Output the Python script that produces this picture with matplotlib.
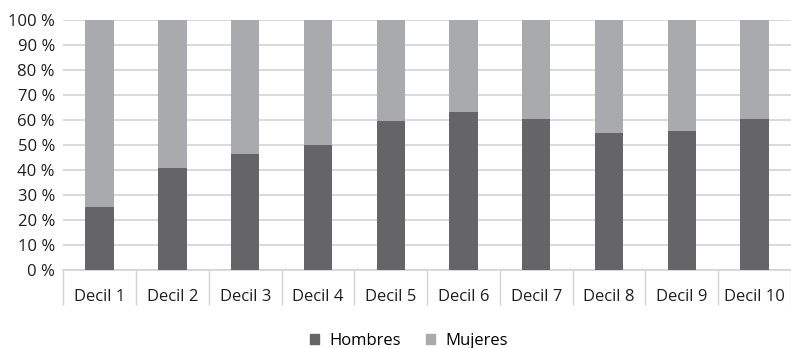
import matplotlib
matplotlib.use("Agg")
import matplotlib.pyplot as plt
import numpy as np
from matplotlib.patches import Patch

categories = ["Decil 1", "Decil 2", "Decil 3", "Decil 4", "Decil 5",
              "Decil 6", "Decil 7", "Decil 8", "Decil 9", "Decil 10"]
hombres = [25.4, 41.0, 46.6, 50.2, 59.8, 63.3, 60.6, 54.7, 55.7, 60.6]
mujeres = [100 - h for h in hombres]
yticks = [0, 10, 20, 30, 40, 50, 60, 70, 80, 90, 100]
ytick_labels = [f"{v} %" for v in yticks]

plt.rcParams['font.family'] = ['Open Sans', 'DejaVu Sans']

dark = "#656567"
light = "#a9aaad"
grid = "#d3d3d3"
txt = "#1e1e1e"

fig = plt.figure(figsize=(7.91, 3.48), dpi=100)
ax = fig.add_axes([63.3 / 791, (348 - 270) / 348, (791 - 63.3) / 791, 249.7 / 348])

x = np.arange(len(categories))
w = 0.39
ax.bar(x, hombres, w, color=dark, zorder=3, label="Hombres")
ax.bar(x, mujeres, w, bottom=hombres, color=light, zorder=3, label="Mujeres")

ax.set_xlim(-0.5, len(categories) - 0.5)
ax.set_ylim(0, 100)
ax.set_yticks(yticks)
ax.set_yticklabels(ytick_labels, fontsize=12, color=txt)
ax.tick_params(axis='y', length=0, pad=6)
ax.yaxis.grid(True, color=grid, linewidth=1.2, zorder=0)

# category boundary separators as major ticks, labels on minor ticks
ax.set_xticks(np.arange(len(categories) + 1) - 0.5)
ax.set_xticklabels([])
ax.tick_params(axis='x', which='major', length=25, color=grid, width=1.0, direction='out')
ax.set_xticks(x, minor=True)
ax.set_xticklabels(categories, minor=True, fontsize=12, color=txt)
ax.tick_params(axis='x', which='minor', length=0, pad=14)

for s in ["top", "right", "left"]:
    ax.spines[s].set_visible(False)
ax.spines["bottom"].set_color(grid)
ax.spines["bottom"].set_linewidth(1.2)

handles = [Patch(color=dark, label="Hombres"), Patch(color=light, label="Mujeres")]
fig.legend(handles=handles, loc="center", bbox_to_anchor=(0.517, 0.02), ncol=2,
           frameon=False, fontsize=12, handlelength=0.55, handleheight=0.55,
           handletextpad=0.6, columnspacing=1.5, borderpad=0)

fig.savefig("out.png", dpi=100)
